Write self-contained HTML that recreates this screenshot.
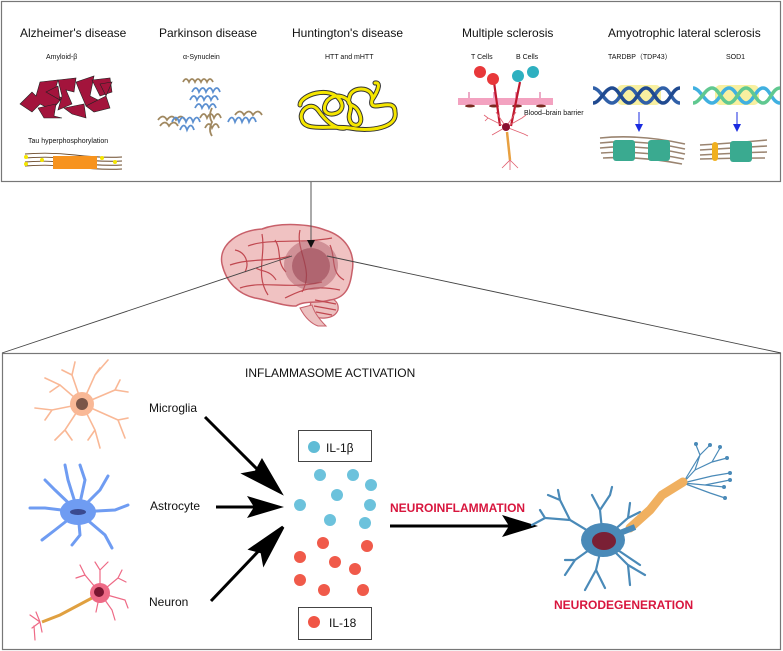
<!DOCTYPE html>
<html><head><meta charset="utf-8"><style>
html,body{margin:0;padding:0;background:#fff}
svg{display:block}
text{font-family:"Liberation Sans",Arial,sans-serif}
</style></head><body>
<svg width="783" height="651" viewBox="0 0 783 651" xmlns="http://www.w3.org/2000/svg">
<defs>
<marker id="sa" markerWidth="8" markerHeight="8" refX="6" refY="4" orient="auto" markerUnits="userSpaceOnUse"><path d="M0,0 L8,4 L0,8 Z" fill="#111"/></marker>
<marker id="ba" markerWidth="8" markerHeight="8" refX="6" refY="4" orient="auto" markerUnits="userSpaceOnUse"><path d="M0,0 L8,4 L0,8 Z" fill="#1a2be0"/></marker>
</defs>
<!-- frames -->
<rect x="1.5" y="1.5" width="779" height="180" fill="none" stroke="#777" stroke-width="1.2"/>
<rect x="2.5" y="353.5" width="778" height="296" fill="none" stroke="#777" stroke-width="1.2"/>

<!-- brain -->
<g>
<path d="M312,298 C325,294 340,298 338,310 C334,320 318,320 308,314 Z" fill="#ecc0c0" stroke="#c8606a" stroke-width="1.2"/>
<path d="M300,308 C305,318 312,324 318,326 L326,326 C318,318 314,312 312,305 Z" fill="#ecc0c0" stroke="#c8606a"/>
<path d="M222,264 C218,244 240,230 262,229 C280,222 310,224 325,230 C345,236 356,252 352,272 C350,288 345,298 330,300 C318,304 305,300 296,306 C282,306 268,300 255,298 C238,294 226,282 222,264 Z" fill="#f0c2c2" stroke="#c8606a" stroke-width="1.5"/>
<g fill="none" stroke="#c04850" stroke-width="1.2">
<path d="M230,265 C250,258 270,262 290,256"/>
<path d="M240,288 C262,280 290,290 322,282"/>
<path d="M248,246 C268,238 300,244 332,238"/>
<path d="M285,298 C298,292 310,284 340,290"/>
<path d="M262,234 C266,255 255,275 268,295"/>
<path d="M300,230 C295,250 315,270 302,292"/>
<path d="M235,250 C245,252 250,262 245,272"/>
<path d="M275,240 C282,250 276,262 286,272"/>
<path d="M330,245 C336,258 330,272 344,280"/>
<path d="M256,268 C262,272 270,270 276,280"/>
<path d="M315,300 L336,304 M314,306 L336,310 M316,312 L332,315"/>
</g>
<ellipse cx="311" cy="265" rx="27" ry="25" fill="#b0606c" opacity="0.5"/>
<ellipse cx="311" cy="266" rx="19" ry="18" fill="#8a3040" opacity="0.45"/>
</g>
<line x1="311" y1="182" x2="311" y2="246" stroke="#555" stroke-width="1" marker-end="url(#sa)"/>
<line x1="2" y1="353" x2="292" y2="256" stroke="#444" stroke-width="0.9"/>
<line x1="327" y1="256" x2="781" y2="353" stroke="#444" stroke-width="0.9"/>

<!-- top titles -->
<g font-size="12" fill="#111">
<text x="20" y="37">Alzheimer's disease</text>
<text x="159" y="37">Parkinson disease</text>
<text x="292" y="37">Huntington's disease</text>
<text x="462" y="37">Multiple sclerosis</text>
<text x="608" y="37">Amyotrophic lateral sclerosis</text>
</g>
<g font-size="7" fill="#111">
<text x="46" y="59">Amyloid-β</text>
<text x="183" y="59">α-Synuclein</text>
<text x="325" y="59">HTT and mHTT</text>
<text x="471" y="59">T Cells</text>
<text x="516" y="59">B Cells</text>
<text x="608" y="59">TARDBP（TDP43）</text>
<text x="726" y="59">SOD1</text>
<text x="28" y="143">Tau hyperphosphorylation</text>
<text x="524" y="115">Blood–brain barrier</text>
</g>

<!-- amyloid -->
<g fill="#a3143c" stroke="#222" stroke-width="0.6">
<path d="M20,104 L32,92 L36,96 L40,82 L58,80 L54,94 L62,98 L52,110 L40,104 L32,112 Z"/>
<path d="M58,80 L76,78 L74,92 L66,90 L72,104 L58,110 L62,96 Z"/>
<path d="M76,82 L94,76 L90,96 L98,100 L86,106 L80,92 Z"/>
<path d="M92,80 L110,78 L112,92 L100,96 Z"/>
<path d="M38,108 L56,104 L54,116 L62,118 L44,118 Z"/>
<path d="M64,108 L84,104 L86,118 L72,114 Z"/>
<path d="M86,106 L106,96 L110,108 L94,112 Z"/>
<path d="M46,92 L58,86 L60,100 Z"/>
<path d="M100,84 L112,82 L106,96 Z"/>
</g>
<!-- tau -->
<g stroke="#6b4a2a" stroke-width="0.9" fill="none">
<path d="M25,154 Q50,152 75,155 T122,157"/><path d="M25,158 Q50,156 75,159 T122,161"/><path d="M25,162 Q50,160 75,163 T122,165"/><path d="M25,166 Q50,164 75,167 T122,169"/>
</g>
<rect x="53" y="156" width="44" height="13" fill="#f7931e"/>
<g fill="#f5e600"><circle cx="26" cy="157" r="2"/><circle cx="26" cy="164" r="2"/><circle cx="42" cy="160" r="2"/><circle cx="102" cy="158" r="2"/><circle cx="115" cy="162" r="2"/></g>

<!-- synuclein -->
<g fill="none" stroke-width="1.8">
<path d="M183,82 q3,-6 6,0 q3,-6 6,0 q3,-6 6,0 q3,-6 6,0 q3,-6 6,0" stroke="#a08860"/>
<path d="M192,92 q4,-8 7,0 q4,-8 7,0 q4,-8 7,0 q4,-8 7,0 M190,100 q4,-8 7,0 q4,-8 7,0 q4,-8 7,0 q4,-8 7,0 M195,108 q4,-8 7,0 q4,-8 7,0 q4,-8 7,0" stroke="#5b8fd0"/>
<path d="M158,120 q5,-7 9,0 q5,-7 9,0 q5,-7 9,0 M235,115 q5,-7 9,0 q5,-7 9,0 q5,-7 9,0 M160,126 q5,-7 9,0 q5,-7 9,0" stroke="#a08860"/>
<path d="M172,122 q4,-9 7,0 q4,-9 7,0 q4,-9 7,0 q4,-9 7,0 M228,122 q4,-9 7,0 q4,-9 7,0 q4,-9 7,0 q4,-9 7,0 M180,130 q4,-9 7,0 q4,-9 7,0" stroke="#5b8fd0"/>
<path d="M200,118 q4,-8 7,0 q4,-8 7,0 q4,-8 7,0 M205,128 q4,-8 7,0 q4,-8 7,0 M212,108 q-4,8 0,14 q-4,8 0,14" stroke="#a08860"/>
</g>

<!-- HTT -->
<g fill="none" stroke-linecap="round">
<path d="M300,105 C300,95 330,85 340,100 C350,115 320,120 325,105 C330,90 355,95 350,112 C345,128 365,130 360,115 C355,100 345,110 350,95 C355,85 375,88 372,100 C368,115 395,95 395,112 C398,128 370,132 350,128 C330,125 305,132 302,120 C298,112 310,100 318,110 C325,120 335,130 345,128 M372,100 C380,88 380,82 375,83" stroke="#333" stroke-width="5"/>
<path d="M300,105 C300,95 330,85 340,100 C350,115 320,120 325,105 C330,90 355,95 350,112 C345,128 365,130 360,115 C355,100 345,110 350,95 C355,85 375,88 372,100 C368,115 395,95 395,112 C398,128 370,132 350,128 C330,125 305,132 302,120 C298,112 310,100 318,110 C325,120 335,130 345,128 M372,100 C380,88 380,82 375,83" stroke="#f5e600" stroke-width="3"/>
</g>

<!-- MS -->
<rect x="458" y="98" width="95" height="7" fill="#f3a2c0"/>
<g stroke="#e070a0" stroke-width="1.2"><line x1="469" y1="92" x2="469" y2="98"/><line x1="494" y1="92" x2="494" y2="98"/><line x1="516" y1="92" x2="516" y2="98"/><line x1="540" y1="92" x2="540" y2="98"/></g>
<g fill="#7a2a20"><ellipse cx="470" cy="106" rx="5" ry="1.5"/><ellipse cx="494" cy="106" rx="5" ry="1.5"/><ellipse cx="517" cy="106" rx="5" ry="1.5"/><ellipse cx="541" cy="106" rx="5" ry="1.5"/></g>
<path d="M494,82 L500,126 M520,82 L511,126" stroke="#c0182e" stroke-width="2.2" fill="none"/>
<circle cx="480" cy="72" r="6" fill="#e8383a"/><circle cx="493" cy="79" r="6" fill="#e8383a"/>
<circle cx="518" cy="76" r="6" fill="#2eb0c0"/><circle cx="533" cy="72" r="6" fill="#2eb0c0"/>
<g stroke="#e06070" stroke-width="0.8" fill="none">
<path d="M506,127 L488,118 M506,127 L492,135 M506,127 L522,118 M506,127 L524,134 M506,127 L496,112 M506,127 L516,112 M488,118 l-4,-3 M488,118 l-3,3 M524,134 l4,2 M522,118 l4,-3 M510,160 L502,168 M510,160 L518,168 M510,160 L510,170"/>
</g>
<path d="M507,132 L510,160" stroke="#e8a040" stroke-width="2.5"/>
<circle cx="506" cy="127" r="4" fill="#8a1030"/>

<!-- ALS DNA 1 -->
<rect x="617" y="85" width="44" height="20" rx="5" fill="#f8f0a0"/>
<g fill="none" stroke-width="3.5">
<path d="M593,88 C600,88 605,103 612,103 C619,103 622,88 629,88 C636,88 639,103 646,103 C653,103 656,88 663,88 C670,88 672,103 680,103" stroke="#3060a8"/>
<path d="M593,103 C600,103 605,88 612,88 C619,88 622,103 629,103 C636,103 639,88 646,88 C653,88 656,103 663,103 C670,103 672,88 680,88" stroke="#204a90"/>
</g>
<line x1="639" y1="112" x2="639" y2="130" stroke="#1a2be0" stroke-width="1" marker-end="url(#ba)"/>
<g fill="none" stroke="#9a8470" stroke-width="1.6">
<path d="M600,138 Q640,134 685,144"/><path d="M600,143 Q640,139 685,149"/><path d="M600,148 Q640,144 685,154"/><path d="M601,153 Q640,150 684,159"/><path d="M603,158 Q640,156 682,164"/>
</g>
<rect x="613" y="140" width="22" height="21" rx="3" fill="#3aaa90"/>
<rect x="648" y="140" width="22" height="21" rx="3" fill="#3aaa90"/>
<!-- ALS DNA 2 -->
<rect x="715" y="85" width="44" height="20" rx="5" fill="#f8f0a0"/>
<g fill="none" stroke-width="3.5">
<path d="M693,88 C700,88 705,103 712,103 C719,103 722,88 729,88 C736,88 739,103 746,103 C753,103 756,88 763,88 C770,88 772,103 780,103" stroke="#40b0e0"/>
<path d="M693,103 C700,103 705,88 712,88 C719,88 722,103 729,103 C736,103 739,88 746,88 C753,88 756,103 763,103 C770,103 772,88 780,88" stroke="#60c890"/>
</g>
<line x1="737" y1="112" x2="737" y2="130" stroke="#1a2be0" stroke-width="1" marker-end="url(#ba)"/>
<g fill="none" stroke="#9a8470" stroke-width="1.6">
<path d="M700,145 Q735,143 767,140"/><path d="M700,150 Q735,148 767,146"/><path d="M700,155 Q735,153 767,152"/><path d="M700,159 Q735,158 765,158"/>
</g>
<rect x="712" y="142" width="6" height="19" rx="3" fill="#f0b020"/>
<rect x="730" y="141" width="22" height="21" rx="3" fill="#3aaa90"/>

<!-- bottom panel text -->
<text x="245" y="377" font-size="12" fill="#111">INFLAMMASOME ACTIVATION</text>
<g font-size="12" fill="#111">
<text x="149" y="412">Microglia</text>
<text x="150" y="510">Astrocyte</text>
<text x="149" y="606">Neuron</text>
</g>

<!-- arrows -->
<g stroke="#000" stroke-width="3" fill="#000">
<line x1="205" y1="417" x2="268" y2="480"/>
<path d="M280,492 L245,474 L256,472 L262,461 Z"/>
<line x1="216" y1="507" x2="270" y2="507"/>
<path d="M284,507 L247,496 L254,507 L247,518 Z" stroke="none"/>
<line x1="211" y1="601" x2="270" y2="539"/>
<path d="M283,527 L264,563 L262,552 L251,549 Z"/>
<line x1="390" y1="526" x2="520" y2="526"/>
<path d="M538,526 L502,515 L509,526 L502,537 Z" stroke="none"/>
</g>

<!-- IL boxes -->
<rect x="298.5" y="430.5" width="73" height="31" fill="#fff" stroke="#444"/>
<circle cx="314" cy="447" r="6" fill="#60bcd6"/>
<text x="326" y="452" font-size="12" fill="#111">IL-1β</text>
<rect x="298.5" y="607.5" width="73" height="32" fill="#fff" stroke="#444"/>
<circle cx="314" cy="622" r="6" fill="#f05545"/>
<text x="329" y="627" font-size="12" fill="#111">IL-18</text>

<g fill="#6cc2dc">
<circle cx="300" cy="505" r="6"/><circle cx="320" cy="475" r="6"/><circle cx="353" cy="475" r="6"/><circle cx="371" cy="485" r="6"/><circle cx="337" cy="495" r="6"/><circle cx="370" cy="505" r="6"/><circle cx="330" cy="520" r="6"/><circle cx="365" cy="523" r="6"/>
</g>
<g fill="#f05a4a">
<circle cx="323" cy="543" r="6"/><circle cx="367" cy="546" r="6"/><circle cx="300" cy="557" r="6"/><circle cx="335" cy="562" r="6"/><circle cx="355" cy="569" r="6"/><circle cx="300" cy="580" r="6"/><circle cx="324" cy="590" r="6"/><circle cx="363" cy="590" r="6"/>
</g>

<text x="390" y="512" font-size="12" font-weight="bold" fill="#d8163e">NEUROINFLAMMATION</text>
<text x="554" y="609" font-size="12" font-weight="bold" fill="#d8163e">NEURODEGENERATION</text>

<!-- microglia -->
<g stroke="#f9b896" fill="none" stroke-width="1.6" stroke-linecap="round">
<path d="M82,404 L60,385 L45,378 M60,385 L50,392 M82,404 L72,375 L75,362 M72,375 L62,370 M82,404 L95,375 L108,360 M95,375 L100,368 M82,404 L115,390 L128,392 M115,390 L120,380 M82,404 L118,420 L125,438 M118,420 L128,418 M82,404 L95,430 L100,448 M95,430 L88,440 M82,404 L65,430 L55,440 M65,430 L72,440 M82,404 L52,410 L35,408 M52,410 L45,420"/>
</g>
<circle cx="82" cy="404" r="12" fill="#f9b896"/>
<circle cx="82" cy="404" r="6" fill="#7a5548"/>

<!-- astrocyte -->
<g stroke="#6f9cf2" fill="none" stroke-width="3" stroke-linecap="round">
<path d="M78,512 L45,508 L30,508 M78,512 L55,490 L45,480 M78,512 L68,480 L65,465 M78,512 L85,480 L80,465 M78,512 L100,490 L108,476 M78,512 L115,510 L128,505 M78,512 L105,535 L112,548 M78,512 L80,535 L72,545 M78,512 L55,530 L42,540"/>
</g>
<ellipse cx="78" cy="512" rx="18" ry="13" fill="#6f9cf2"/>
<ellipse cx="78" cy="512" rx="8" ry="3" fill="#3a4a90"/>

<!-- neuron small -->
<g stroke="#ee6a86" fill="none" stroke-width="1.2" stroke-linecap="round">
<path d="M100,593 L85,575 L80,565 M85,575 L76,578 M100,593 L100,570 L95,562 M100,570 L108,562 M100,593 L118,578 L122,570 M118,578 L126,582 M100,593 L125,600 L128,608 M100,593 L112,610 L115,620 M100,593 L96,612 M40,622 L30,615 M40,622 L32,628 M40,622 L42,632 M40,622 L36,612 M34,626 L35,640"/>
</g>
<path d="M92,598 L60,615 L42,622" stroke="#e0a040" stroke-width="3" fill="none"/>
<circle cx="100" cy="593" r="10" fill="#ee6a86"/>
<circle cx="99" cy="592" r="5" fill="#7a1530"/>

<!-- big neuron -->
<g stroke="#4a8ab8" fill="none" stroke-width="2.2" stroke-linecap="round">
<path d="M603,540 L570,520 L560,500 L558,490 M560,500 L548,495 M570,520 L545,518 L540,510 M545,518 L532,525 M603,540 L600,510 L592,495 M600,510 L610,495 L612,487 M603,540 L628,518 L630,503 M628,518 L640,512 M603,540 L575,560 L565,575 M575,560 L565,560 M603,540 L596,570 L585,590 M596,570 L605,588 M603,540 L628,565 L645,575 M628,565 L630,585 M603,540 L640,565"/>
</g>
<g stroke="#4a8ab8" fill="none" stroke-width="1.2" stroke-linecap="round">
<path d="M683,483 L695,470 L700,455 L696,445 M700,455 L710,445 M695,470 L712,462 L727,458 M712,462 L720,448 M683,483 L712,476 L730,473 M683,483 L705,485 L724,487 M705,485 L730,480 M683,483 L710,493 L725,498 M683,483 L700,455"/>
</g>
<g fill="#4a8ab8"><circle cx="696" cy="444" r="2"/><circle cx="710" cy="445" r="2"/><circle cx="720" cy="447" r="2"/><circle cx="727" cy="458" r="2"/><circle cx="730" cy="473" r="2"/><circle cx="730" cy="480" r="2"/><circle cx="724" cy="487" r="2"/><circle cx="725" cy="498" r="2"/></g>
<path d="M630,528 L650,510 L662,495 L683,482" stroke="#f0b060" stroke-width="9" fill="none" stroke-linecap="round"/>
<path d="M615,535 L635,527" stroke="#4a8ab8" stroke-width="6"/>
<ellipse cx="603" cy="540" rx="22" ry="17" fill="#4a8ab8"/>
<ellipse cx="604" cy="541" rx="12" ry="9" fill="#7a2035"/>
</svg>
</body></html>
